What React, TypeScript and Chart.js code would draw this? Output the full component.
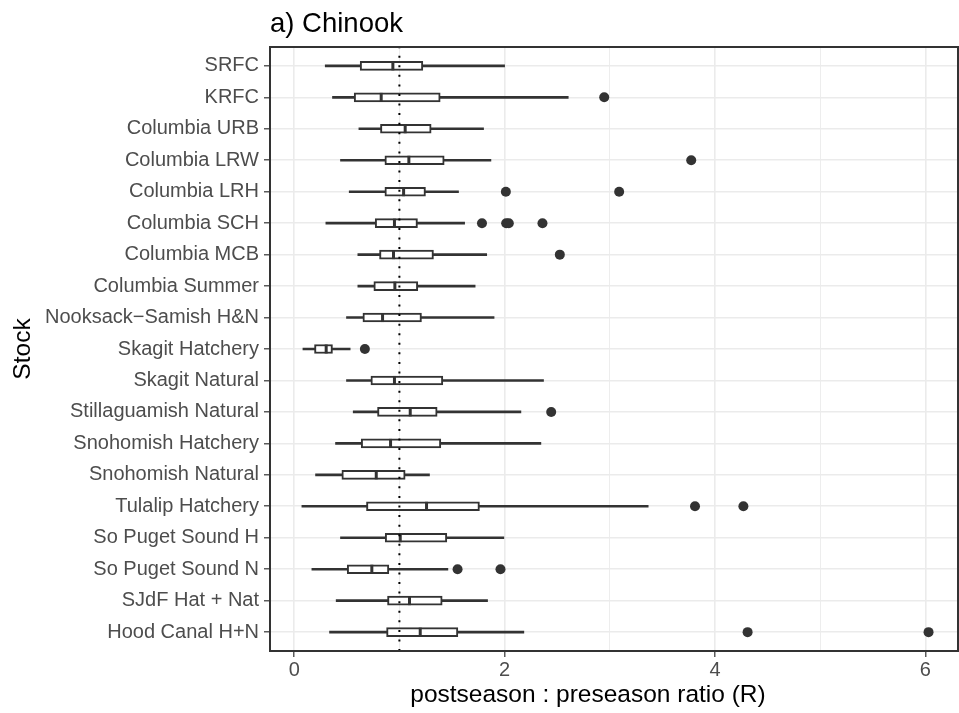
import React, { useEffect, useRef } from 'react';
import { Chart, registerables } from 'chart.js';

Chart.register(...registerables);

// ---- data ----
const stocks = [
  'SRFC',
  'KRFC',
  'Columbia URB',
  'Columbia LRW',
  'Columbia LRH',
  'Columbia SCH',
  'Columbia MCB',
  'Columbia Summer',
  'Nooksack\u2212Samish H&N',
  'Skagit Hatchery',
  'Skagit Natural',
  'Stillaguamish Natural',
  'Snohomish Hatchery',
  'Snohomish Natural',
  'Tulalip Hatchery',
  'So Puget Sound H',
  'So Puget Sound N',
  'SJdF Hat + Nat',
  'Hood Canal H+N',
];

const whiskerLow = [0.295, 0.364, 0.615, 0.44, 0.523, 0.301, 0.605, 0.605, 0.497, 0.083, 0.497, 0.561, 0.393, 0.203, 0.073, 0.44, 0.168, 0.399, 0.336];
const q1 = [0.627, 0.57, 0.82, 0.862, 0.862, 0.77, 0.811, 0.757, 0.653, 0.193, 0.729, 0.792, 0.637, 0.453, 0.687, 0.865, 0.504, 0.887, 0.878];
const medians = [0.938, 0.827, 1.055, 1.09, 1.04, 0.953, 0.944, 0.957, 0.84, 0.304, 0.953, 1.103, 0.916, 0.78, 1.258, 1.008, 0.738, 1.096, 1.198];
const q3 = [1.223, 1.388, 1.302, 1.426, 1.248, 1.172, 1.324, 1.175, 1.21, 0.364, 1.413, 1.359, 1.394, 1.055, 1.761, 1.451, 0.9, 1.407, 1.556];
const whiskerHigh = [2.0, 2.605, 1.8, 1.87, 1.562, 1.62, 1.83, 1.72, 1.9, 0.532, 2.37, 2.155, 2.345, 1.286, 3.365, 1.993, 1.461, 1.838, 2.183];
const outliers: number[][] = [
  [],
  [2.947],
  [],
  [3.774],
  [2.012, 3.089],
  [1.785, 2.015, 2.04, 2.36],
  [2.525],
  [],
  [],
  [0.672],
  [],
  [2.443],
  [],
  [],
  [3.81, 4.27],
  [],
  [1.553, 1.961],
  [],
  [4.31, 6.03],
];

const xLabeledTicks = [0, 2, 4, 6];
const REF_RATIO = 1;

const TITLE = 'a) Chinook';
const X_TITLE = 'postseason : preseason ratio (R)';
const Y_TITLE = 'Stock';

const DARK = '#333333';
const GRID = '#EBEBEB';
const FONT = "'Liberation Sans', Arial, Helvetica, sans-serif";

const panelPlugin = {
  id: 'panelDecor',
  afterDatasetsDraw(chart: any) {
    const { ctx, chartArea: a, scales } = chart;
    const px = scales.x.getPixelForValue(REF_RATIO);
    ctx.save();
    ctx.strokeStyle = '#000000';
    ctx.lineWidth = 2;
    ctx.setLineDash([2, 7.57]);
    ctx.lineDashOffset = 0.87;
    ctx.beginPath();
    ctx.moveTo(px, a.top);
    ctx.lineTo(px, a.bottom);
    ctx.stroke();
    ctx.setLineDash([]);
    ctx.strokeStyle = DARK;
    ctx.lineWidth = 2;
    ctx.strokeRect(a.left, a.top, a.right - a.left, a.bottom - a.top);
    ctx.restore();
  },
  afterDraw(chart: any) {
    // x-axis title (sits slightly left of the panel centre in the reference)
    const { ctx, chartArea: a } = chart;
    ctx.save();
    ctx.fillStyle = '#000000';
    ctx.font = `24.5px ${FONT}`;
    ctx.textAlign = 'center';
    ctx.textBaseline = 'middle';
    ctx.fillText(X_TITLE, (a.left + a.right) / 2 - 26, 695);
    ctx.restore();
  },
};

export default function App() {
  const canvasRef = useRef<HTMLCanvasElement | null>(null);

  useEffect(() => {
    if (!canvasRef.current) return;
    Chart.defaults.font.family = FONT;

    const whiskerData = stocks.map((_, i) => ({ y: i + 1, x: [whiskerLow[i], whiskerHigh[i]] }));
    const boxData = stocks.map((_, i) => ({ y: i + 1, x: [q1[i], q3[i]] }));
    const medianData = stocks.map((_, i) => ({ x: medians[i], y: i + 1 }));
    const outlierData: { x: number; y: number }[] = [];
    outliers.forEach((vals, i) => vals.forEach((v) => outlierData.push({ x: v, y: i + 1 })));

    const chart = new Chart(canvasRef.current, {
      type: 'bar',
      data: {
        datasets: [
          {
            type: 'scatter',
            label: 'outliers',
            data: outlierData,
            pointStyle: 'circle',
            pointRadius: 5,
            pointBackgroundColor: DARK,
            pointBorderWidth: 0,
            order: 0,
          } as any,
          {
            type: 'scatter',
            label: 'median',
            data: medianData,
            pointStyle: 'line',
            rotation: 90,
            pointRadius: 4.5,
            pointBorderColor: DARK,
            pointBorderWidth: 3,
            order: 1,
          } as any,
          {
            type: 'bar',
            label: 'box',
            data: boxData,
            backgroundColor: '#FFFFFF',
            borderColor: DARK,
            borderWidth: 2,
            borderSkipped: false,
            barThickness: 9,
            grouped: false,
            order: 2,
          } as any,
          {
            type: 'bar',
            label: 'whisker',
            data: whiskerData,
            backgroundColor: DARK,
            borderWidth: 0,
            barThickness: 2,
            grouped: false,
            order: 3,
          } as any,
        ],
      },
      options: {
        indexAxis: 'y',
        responsive: false,
        animation: false,
        events: [],
        layout: { autoPadding: false, padding: { top: 0, right: 1, bottom: 0, left: 0 } },
        plugins: {
          legend: { display: false },
          tooltip: { enabled: false },
          title: {
            display: true,
            text: TITLE,
            align: 'start',
            fullSize: false,
            color: '#000000',
            font: { size: 27.5, weight: 'normal', lineHeight: 1.2, family: FONT },
            padding: { top: 8, bottom: 6 },
          },
        },
        scales: {
          x: {
            type: 'linear',
            position: 'bottom',
            min: -0.23,
            max: 6.31,
            offset: false,
            beginAtZero: false,
            afterFit: (s: any) => {
              s.height = 62;
              s.paddingLeft = 0;
              s.paddingRight = 0;
            },
            border: { display: false },
            grid: {
              color: GRID,
              lineWidth: (c: any) => (c.tick && xLabeledTicks.includes(c.tick.value) ? 1.6 : 0.9),
              drawTicks: true,
              tickLength: 6,
              tickWidth: 1.2,
              tickColor: (c: any) => (c.tick && xLabeledTicks.includes(c.tick.value) ? DARK : 'rgba(0,0,0,0)'),
              offset: false,
            },
            ticks: {
              stepSize: 1,
              includeBounds: false,
              autoSkip: false,
              maxRotation: 0,
              padding: 1.5,
              color: '#4D4D4D',
              font: { size: 20, family: FONT },
              callback: (v: any) => (xLabeledTicks.includes(Number(v)) ? String(v) : ''),
            },
            title: { display: false, text: X_TITLE },
          },
          y: {
            type: 'linear',
            position: 'left',
            reverse: true,
            min: 0.4,
            max: 19.6,
            offset: false,
            afterFit: (s: any) => {
              s.width = 270;
              s.paddingTop = 0;
              s.paddingBottom = 0;
            },
            border: { display: false },
            grid: {
              color: GRID,
              lineWidth: 1.6,
              drawTicks: true,
              tickLength: 6,
              tickWidth: 1.2,
              tickColor: DARK,
              offset: false,
            },
            ticks: {
              stepSize: 1,
              includeBounds: false,
              autoSkip: false,
              padding: 5,
              color: '#4D4D4D',
              font: { size: 20, family: FONT },
              callback: (v: any) => stocks[Number(v) - 1] ?? '',
            },
            title: {
              display: true,
              text: Y_TITLE,
              color: '#000000',
              font: { size: 24.5, family: FONT, lineHeight: 1.2 },
              padding: { top: 9, bottom: 0 },
            },
          },
        },
      } as any,
      plugins: [panelPlugin],
    });

    return () => chart.destroy();
  }, []);

  return (
    <div style={{ position: 'absolute', left: 0, top: 0, width: 959, height: 713, background: '#FFFFFF' }}>
      <canvas ref={canvasRef} width={959} height={713} style={{ display: 'block' }} />
    </div>
  );
}
